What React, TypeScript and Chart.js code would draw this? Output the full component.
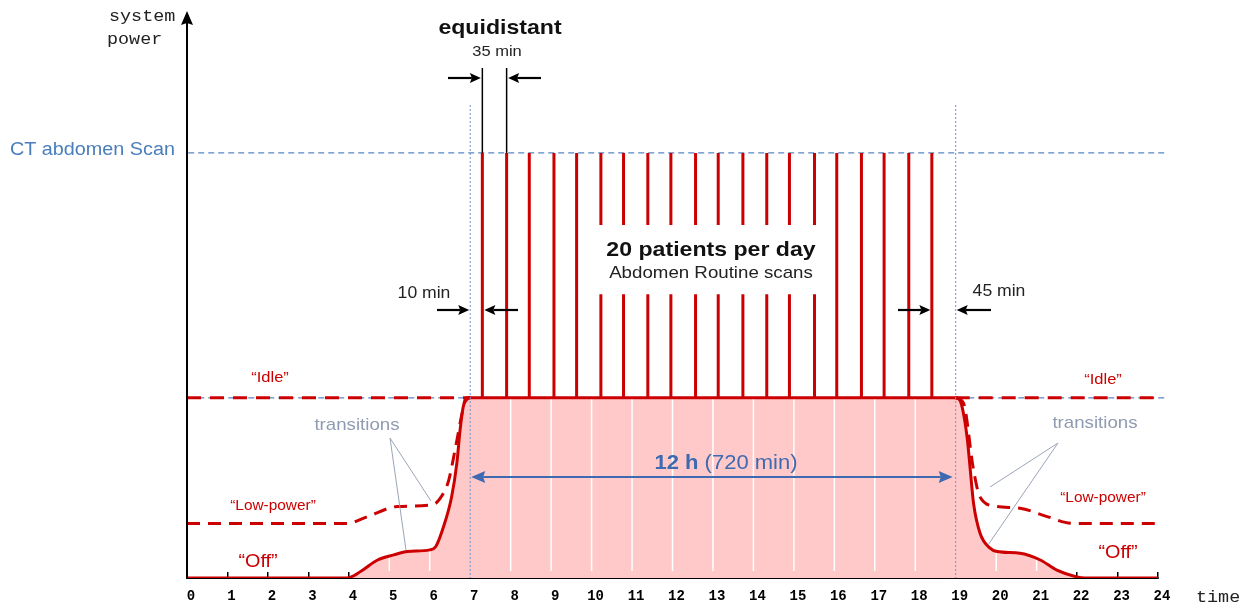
import React, { useEffect, useRef } from 'react';
import { Chart, registerables } from 'chart.js';

Chart.register(...registerables);

// ---------- data ----------
const timeTickLabels = ['0', '1', '2', '3', '4', '5', '6', '7', '8', '9', '10', '11', '12', '13', '14', '15', '16', '17', '18', '19', '20', '21', '22', '23', '24'];

const levelOff = 0;
const levelLowPower = 9.7;
const levelIdle = 32;
const levelScan = 75.5;
const levelAxisTop = 100;

const workdayStart = 7;
const workdayEnd = 19;

// 20 abdomen scans (hours)
const scanHours = [7.30, 7.90, 8.46, 9.07, 9.63, 10.23, 10.79, 11.39, 11.96, 12.57, 13.13, 13.74, 14.33, 14.89, 15.51, 16.06, 16.67, 17.23, 17.84, 18.41];
const scanSplit = [0, 0, 0, 0, 0, 1, 1, 1, 1, 1, 1, 1, 1, 1, 1, 0, 0, 0, 0, 0];
const scanSplitRange = [50.4, 62.7];

// "Off" mode power curve
const offRiseHours = [0, 3.95, 4.3, 4.71, 5.11, 5.45, 6.0, 6.15, 6.34, 6.54, 6.67, 6.75, 6.83, 6.93, 7.0];
const offRisePower = [0, 0, 1.2, 3.2, 4.1, 4.7, 5.0, 5.6, 9.1, 14.4, 20.4, 26.3, 30.5, 31.8, 32];
const offFallHours = [19.0, 19.1, 19.28, 19.36, 19.44, 19.6, 19.85, 20.02, 20.59, 21.09, 21.5, 21.99, 22.2, 24];
const offFallPower = [32, 31.6, 25.1, 19.2, 13.3, 8.0, 5.3, 4.7, 4.4, 3.2, 1.4, 0.2, 0, 0];

// "Low-power" mode power curve
const lowRiseHours = [0, 3.95, 4.46, 5.2, 6.07, 6.3, 6.47, 6.64, 6.8, 6.9, 7.0];
const lowRisePower = [levelLowPower, levelLowPower, 10.9, 12.7, 13.0, 14.6, 17.4, 23.3, 29.3, 32, 32];
const lowFallHours = [19.0, 19.19, 19.44, 19.6, 20.02, 20.59, 21.26, 21.9, 24];
const lowFallPower = [32, 31.1, 19.2, 14.4, 12.7, 12.4, 10.9, levelLowPower, levelLowPower];

// ---------- styles ----------
const RED = '#CC0000';
const PINK = '#FFC9C9';
const BLUE_DASH = '#5B86C5';
const BLUE_TEXT = '#4A7EBB';
const BLUE_ARROW = '#3D6AB0';
const GRAY = '#8F9BB0';
const SANS = '"Liberation Sans", Arial, sans-serif';
const MONO = '"Liberation Mono", "Courier New", monospace';

function drawText(ctx: CanvasRenderingContext2D, s: string, x: number, y: number, font: string, color: string, align: CanvasTextAlign = 'center', sx = 1.1) {
  ctx.save();
  ctx.font = font;
  ctx.fillStyle = color;
  ctx.textAlign = align;
  ctx.textBaseline = 'middle';
  ctx.translate(x, y);
  ctx.scale(sx, 1);
  ctx.fillText(s, 0, 0);
  ctx.restore();
}

function drawArrow(ctx: CanvasRenderingContext2D, x1: number, y1: number, x2: number, y2: number, color: string, width: number, headLen: number, headHalf: number) {
  const ang = Math.atan2(y2 - y1, x2 - x1);
  const bx = x2 - headLen * Math.cos(ang);
  const by = y2 - headLen * Math.sin(ang);
  ctx.save();
  ctx.strokeStyle = color;
  ctx.fillStyle = color;
  ctx.lineWidth = width;
  ctx.setLineDash([]);
  ctx.beginPath();
  ctx.moveTo(x1, y1);
  ctx.lineTo(bx + Math.cos(ang) * 2, by + Math.sin(ang) * 2);
  ctx.stroke();
  ctx.beginPath();
  ctx.moveTo(x2, y2);
  ctx.lineTo(bx + headHalf * Math.sin(ang), by - headHalf * Math.cos(ang));
  ctx.lineTo(bx + 2 * Math.cos(ang), by + 2 * Math.sin(ang));
  ctx.lineTo(bx - headHalf * Math.sin(ang), by + headHalf * Math.cos(ang));
  ctx.closePath();
  ctx.fill();
  ctx.restore();
}

function line(ctx: CanvasRenderingContext2D, x1: number, y1: number, x2: number, y2: number, color: string, width: number, dash: number[] = []) {
  ctx.save();
  ctx.strokeStyle = color;
  ctx.lineWidth = width;
  ctx.setLineDash(dash);
  ctx.beginPath();
  ctx.moveTo(x1, y1);
  ctx.lineTo(x2, y2);
  ctx.stroke();
  ctx.restore();
}

const overlayPlugin = {
  id: 'overlay',
  beforeDatasetsDraw(chart: any) {
    const { ctx, chartArea, scales } = chart;
    const x = scales.x;
    ctx.save();
    ctx.globalCompositeOperation = 'source-atop';
    ctx.strokeStyle = '#FFFFFF';
    ctx.lineWidth = 1.5;
    for (let h = 1; h < 24; h++) {
      if (h === workdayStart || h === workdayEnd) continue;
      const px = x.getPixelForValue(h);
      ctx.beginPath();
      ctx.moveTo(px, chartArea.top);
      ctx.lineTo(px, chartArea.bottom - 7);
      ctx.stroke();
    }
    ctx.restore();
  },
  afterDatasetsDraw(chart: any) {
    const { ctx, chartArea, scales } = chart;
    const X = (h: number) => scales.x.getPixelForValue(h);
    const Y = (v: number) => scales.y.getPixelForValue(v);
    const left = chartArea.left;
    const bottom = chartArea.bottom;

    // workday boundaries (dotted)
    line(ctx, X(workdayStart), 105, X(workdayStart), bottom, '#6F93CC', 1, [2, 2]);
    line(ctx, X(workdayEnd), 105, X(workdayEnd), bottom, '#6F93CC', 1, [2, 2]);

    // y axis with arrow
    line(ctx, left, bottom + 1, left, 22, '#000', 2);
    ctx.save();
    ctx.fillStyle = '#000';
    ctx.beginPath();
    ctx.moveTo(left, 11);
    ctx.lineTo(left + 6, 25);
    ctx.lineTo(left, 23);
    ctx.lineTo(left - 6, 25);
    ctx.closePath();
    ctx.fill();
    ctx.restore();

    drawText(ctx, 'system', 109, 17, `16px ${MONO}`, '#222', 'left', 1.15);
    drawText(ctx, 'power', 107, 40, `16px ${MONO}`, '#222', 'left', 1.15);
    drawText(ctx, 'time', 1196, 598, `16px ${MONO}`, '#222', 'left', 1.15);

    drawText(ctx, 'CT abdomen Scan', 175, 150, `18px ${SANS}`, BLUE_TEXT, 'right');

    // equidistant annotation
    const s0 = X(scanHours[0]);
    const s1 = X(scanHours[1]);
    const sLast = X(scanHours[scanHours.length - 1]);
    drawText(ctx, 'equidistant', 500, 28, `bold 21px ${SANS}`, '#111');
    drawText(ctx, '35 min', 497, 52, `15px ${SANS}`, '#222');
    line(ctx, s0, 68, s0, Y(levelScan), '#000', 1.5);
    line(ctx, s1, 68, s1, Y(levelScan), '#000', 1.5);
    drawArrow(ctx, 448, 78, s0 - 1.5, 78, '#000', 2.2, 11, 5);
    drawArrow(ctx, 541, 78, s1 + 1.5, 78, '#000', 2.2, 11, 5);

    // 10 min
    drawText(ctx, '10 min', 424, 294, `16px ${SANS}`, '#222');
    drawArrow(ctx, 437, 310, X(workdayStart) - 1, 310, '#000', 2.2, 11, 5);
    drawArrow(ctx, 518, 310, s0 + 2, 310, '#000', 2.2, 11, 5);

    // 45 min
    drawText(ctx, '45 min', 999, 292, `16px ${SANS}`, '#222');
    drawArrow(ctx, 898, 310, sLast - 1.5, 310, '#000', 2.2, 11, 5);
    drawArrow(ctx, 991, 310, X(workdayEnd) + 1, 310, '#000', 2.2, 11, 5);

    // centre label
    drawText(ctx, '20 patients per day', 711, 250, `bold 21px ${SANS}`, '#111');
    drawText(ctx, 'Abdomen Routine scans', 711, 273, `17px ${SANS}`, '#222');

    // 12 h double arrow
    const ay = 477;
    const ax1 = X(workdayStart) + 1;
    const ax2 = X(workdayEnd) - 3;
    const mid = (ax1 + ax2) / 2;
    drawArrow(ctx, mid, ay, ax2, ay, BLUE_ARROW, 2, 14, 6);
    drawArrow(ctx, mid, ay, ax1, ay, BLUE_ARROW, 2, 14, 6);
    ctx.save();
    const sx = 1.1;
    ctx.font = `bold 20px ${SANS}`;
    const w1 = ctx.measureText('12 h').width * sx;
    ctx.font = `20px ${SANS}`;
    const w2 = ctx.measureText(' (720 min)').width * sx;
    ctx.restore();
    const tx = 726 - (w1 + w2) / 2;
    drawText(ctx, '12 h', tx, 463, `bold 20px ${SANS}`, BLUE_ARROW, 'left');
    drawText(ctx, ' (720 min)', tx + w1, 463, `20px ${SANS}`, BLUE_ARROW, 'left');

    // mode labels
    drawText(ctx, '\u201CIdle\u201D', 270, 378, `15px ${SANS}`, RED);
    drawText(ctx, '\u201CIdle\u201D', 1103, 380, `15px ${SANS}`, RED);
    drawText(ctx, '\u201CLow-power\u201D', 273, 506, `14px ${SANS}`, RED);
    drawText(ctx, '\u201CLow-power\u201D', 1103, 498, `14px ${SANS}`, RED);
    drawText(ctx, '\u201COff\u201D', 258, 562, `18px ${SANS}`, RED);
    drawText(ctx, '\u201COff\u201D', 1118, 553, `18px ${SANS}`, RED);

    // transitions
    drawText(ctx, 'transitions', 357, 425, `17px ${SANS}`, GRAY);
    drawText(ctx, 'transitions', 1095, 423, `17px ${SANS}`, GRAY);
    line(ctx, 390, 438, 406, 550, '#9AA5B8', 1);
    line(ctx, 390, 438, 431, 501, '#9AA5B8', 1);
    line(ctx, 1058, 443, 990, 487, '#9AA5B8', 1);
    line(ctx, 1058, 443, 988, 545, '#9AA5B8', 1);
  },
};

function zip(hours: number[], vals: number[]) {
  return hours.map((h, i) => ({ x: h, y: vals[i] }));
}

export default function App() {
  const canvasRef = useRef<HTMLCanvasElement | null>(null);

  useEffect(() => {
    const canvas = canvasRef.current;
    if (!canvas) return;

    const spikePoints: { x: number; y: number | null }[] = [];
    scanHours.forEach((h, i) => {
      if (scanSplit[i]) {
        spikePoints.push({ x: h, y: levelIdle }, { x: h, y: scanSplitRange[0] }, { x: h, y: null }, { x: h, y: scanSplitRange[1] }, { x: h, y: levelScan }, { x: h, y: null });
      } else {
        spikePoints.push({ x: h, y: levelIdle }, { x: h, y: levelScan }, { x: h, y: null });
      }
    });

    const offPoints = [...zip(offRiseHours, offRisePower), ...zip(offFallHours, offFallPower)];
    const lowPoints = [...zip(lowRiseHours, lowRisePower), { x: 7.0, y: null }, ...zip(lowFallHours, lowFallPower)];
    const idlePoints = [{ x: 0, y: levelIdle }, { x: workdayStart, y: levelIdle }, { x: workdayStart, y: null }, { x: workdayEnd, y: levelIdle }, { x: 24.05, y: levelIdle }];

    const chart = new Chart(canvas, {
      type: 'line',
      data: {
        datasets: [
          {
            label: 'scans',
            data: spikePoints as any,
            borderColor: RED,
            borderWidth: 3,
            borderCapStyle: 'butt',
            pointRadius: 0,
            fill: false,
            spanGaps: false,
            order: 1,
          },
          {
            label: 'off',
            data: offPoints as any,
            borderColor: RED,
            borderWidth: 3,
            pointRadius: 0,
            cubicInterpolationMode: 'monotone',
            fill: 'origin',
            backgroundColor: PINK,
            order: 2,
          },
          {
            label: 'low-power',
            data: lowPoints as any,
            borderColor: RED,
            borderWidth: 3,
            borderDash: [13, 8],
            pointRadius: 0,
            cubicInterpolationMode: 'monotone',
            fill: false,
            spanGaps: false,
            order: 3,
          },
          {
            label: 'idle',
            data: idlePoints as any,
            borderColor: RED,
            borderWidth: 3,
            borderDash: [14, 9],
            pointRadius: 0,
            fill: false,
            spanGaps: false,
            clip: false as any,
            order: 4,
          },
          {
            label: 'idle level',
            data: [{ x: 0.03, y: levelIdle }, { x: 24.2, y: levelIdle }],
            borderColor: BLUE_DASH,
            borderWidth: 1.2,
            borderDash: [6, 4],
            pointRadius: 0,
            fill: false,
            clip: false as any,
            order: 5,
          },
          {
            label: 'scan level',
            data: [{ x: 0.03, y: levelScan }, { x: 24.2, y: levelScan }],
            borderColor: BLUE_DASH,
            borderWidth: 1.2,
            borderDash: [6, 4],
            pointRadius: 0,
            fill: false,
            clip: false as any,
            order: 5,
          },
        ],
      },
      options: {
        responsive: false,
        animation: false,
        devicePixelRatio: 1,
        layout: { padding: { left: 187, right: 84, top: 15, bottom: 0 } },
        plugins: {
          legend: { display: false },
          tooltip: { enabled: false },
          filler: { drawTime: 'beforeDatasetsDraw' } as any,
        },
        scales: {
          x: {
            type: 'linear',
            min: 0,
            max: 24,
            afterFit: (s: any) => { s.height = 27; },
            grid: { display: true, drawOnChartArea: false, drawTicks: true, tickLength: -6, color: '#000', lineWidth: 1.5 },
            border: { display: true, color: '#000', width: 2 },
            ticks: {
              stepSize: 1,
              autoSkip: false,
              maxRotation: 0,
              padding: 16,
              labelOffset: 4,
              color: '#000',
              font: { family: MONO, size: 14, weight: 'bold' },
              callback: (v: any) => timeTickLabels[v] ?? '',
            },
          },
          y: {
            type: 'linear',
            display: false,
            min: levelOff,
            max: levelAxisTop,
          },
        },
      },
      plugins: [overlayPlugin as any],
    });

    return () => chart.destroy();
  }, []);

  return (
    <div style={{ position: 'absolute', left: 0, top: 0, width: 1242, height: 605, background: '#fff' }}>
      <canvas ref={canvasRef} width={1242} height={605} style={{ display: 'block' }} />
    </div>
  );
}
